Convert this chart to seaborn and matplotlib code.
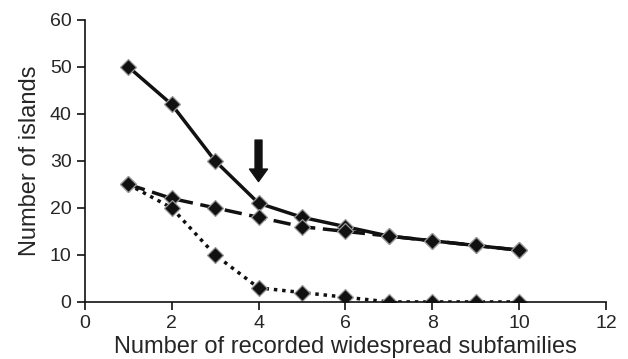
import matplotlib
matplotlib.use("Agg")
import matplotlib.pyplot as plt
import pandas as pd
import seaborn as sns

# DATOS

subfamilies = [1, 2, 3, 4, 5, 6, 7, 8, 9, 10]
solid_vals = [50, 42, 30, 21, 18, 16, 14, 13, 12, 11]
dashed_vals = [25, 22, 20, 18, 16, 15, 14, 13, 12, 11]
dotted_vals = [25, 20, 10, 3, 2, 1, 0, 0, 0, 0]

series = {
    "solid": (solid_vals, "-"),
    "dashed": (dashed_vals, (0, (5, 2.2))),
    "dotted": (dotted_vals, (0, (1, 1.4))),
}

sns.set_style("ticks")
plt.rcParams["font.family"] = ["Liberation Sans", "DejaVu Sans"]

fig = plt.figure(figsize=(6.28, 3.59), dpi=100)
ax = fig.add_axes([0.135, 0.159, 0.83, 0.786])

# LINEAS

for name, (vals, ls) in series.items():
    df = pd.DataFrame({"x": subfamilies, "y": vals})
    sns.lineplot(
        data=df,
        x="x",
        y="y",
        ax=ax,
        color="#111111",
        linestyle=ls,
        linewidth=2.5,
        marker="D",
        markersize=8,
        markerfacecolor="#111111",
        markeredgecolor="#999999",
        markeredgewidth=0.9,
    )

# FLECHA

ax.annotate(
    "",
    xy=(4, 25),
    xytext=(4, 35),
    arrowprops=dict(
        arrowstyle="simple,head_width=1.3,head_length=0.9,tail_width=0.5",
        color="#111111",
    ),
)

ax.set_xlim(0, 12)
ax.set_ylim(0, 60)
ax.set_xticks(range(0, 13, 2))
ax.set_yticks(range(0, 61, 10))

ax.set_xlabel("Number of recorded widespread subfamilies", fontsize=17, labelpad=3)
ax.set_ylabel("Number of islands", fontsize=17, labelpad=6)
ax.tick_params(labelsize=14, length=5.5, width=1.2, pad=4, color="#111111")

for side in ["left", "bottom"]:
    ax.spines[side].set_linewidth(1.2)
    ax.spines[side].set_color("#111111")
sns.despine(ax=ax)

plt.savefig("out.png", dpi=100)
plt.close()
